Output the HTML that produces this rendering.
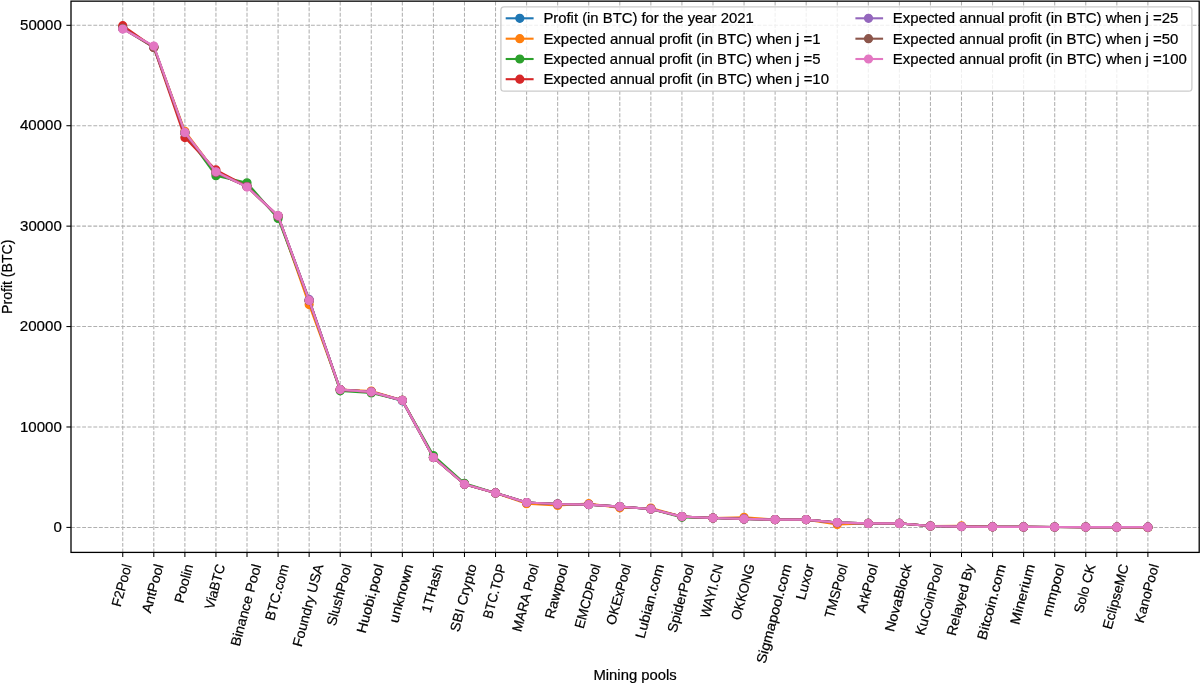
<!DOCTYPE html>
<html><head><meta charset="utf-8"><title>Mining pools profit</title>
<style>html,body{margin:0;padding:0;background:#fff;width:1200px;height:683px;overflow:hidden}text{font-family:"Liberation Sans",sans-serif;stroke:#000;stroke-width:0.2px}</style></head>
<body>
<svg width="1200" height="683" viewBox="0 0 1200 683" style="display:block;font-family:'Liberation Sans',sans-serif;filter:blur(0.3px)">
<rect width="1200" height="683" fill="#fff"/>
<g stroke="#b0b0b0" stroke-width="1.05" stroke-dasharray="3.9 1.68" fill="none">
<line x1="122.75" y1="552.40" x2="122.75" y2="1.15"/>
<line x1="153.81" y1="552.40" x2="153.81" y2="1.15"/>
<line x1="184.88" y1="552.40" x2="184.88" y2="1.15"/>
<line x1="215.94" y1="552.40" x2="215.94" y2="1.15"/>
<line x1="247.01" y1="552.40" x2="247.01" y2="1.15"/>
<line x1="278.08" y1="552.40" x2="278.08" y2="1.15"/>
<line x1="309.14" y1="552.40" x2="309.14" y2="1.15"/>
<line x1="340.21" y1="552.40" x2="340.21" y2="1.15"/>
<line x1="371.27" y1="552.40" x2="371.27" y2="1.15"/>
<line x1="402.34" y1="552.40" x2="402.34" y2="1.15"/>
<line x1="433.40" y1="552.40" x2="433.40" y2="1.15"/>
<line x1="464.47" y1="552.40" x2="464.47" y2="1.15"/>
<line x1="495.53" y1="552.40" x2="495.53" y2="1.15"/>
<line x1="526.60" y1="552.40" x2="526.60" y2="1.15"/>
<line x1="557.66" y1="552.40" x2="557.66" y2="1.15"/>
<line x1="588.73" y1="552.40" x2="588.73" y2="1.15"/>
<line x1="619.79" y1="552.40" x2="619.79" y2="1.15"/>
<line x1="650.86" y1="552.40" x2="650.86" y2="1.15"/>
<line x1="681.92" y1="552.40" x2="681.92" y2="1.15"/>
<line x1="712.99" y1="552.40" x2="712.99" y2="1.15"/>
<line x1="744.05" y1="552.40" x2="744.05" y2="1.15"/>
<line x1="775.12" y1="552.40" x2="775.12" y2="1.15"/>
<line x1="806.18" y1="552.40" x2="806.18" y2="1.15"/>
<line x1="837.25" y1="552.40" x2="837.25" y2="1.15"/>
<line x1="868.31" y1="552.40" x2="868.31" y2="1.15"/>
<line x1="899.38" y1="552.40" x2="899.38" y2="1.15"/>
<line x1="930.44" y1="552.40" x2="930.44" y2="1.15"/>
<line x1="961.50" y1="552.40" x2="961.50" y2="1.15"/>
<line x1="992.57" y1="552.40" x2="992.57" y2="1.15"/>
<line x1="1023.63" y1="552.40" x2="1023.63" y2="1.15"/>
<line x1="1054.70" y1="552.40" x2="1054.70" y2="1.15"/>
<line x1="1085.76" y1="552.40" x2="1085.76" y2="1.15"/>
<line x1="1116.83" y1="552.40" x2="1116.83" y2="1.15"/>
<line x1="1147.89" y1="552.40" x2="1147.89" y2="1.15"/>
<line x1="71.00" y1="527.40" x2="1199.20" y2="527.40"/>
<line x1="71.00" y1="426.98" x2="1199.20" y2="426.98"/>
<line x1="71.00" y1="326.56" x2="1199.20" y2="326.56"/>
<line x1="71.00" y1="226.14" x2="1199.20" y2="226.14"/>
<line x1="71.00" y1="125.72" x2="1199.20" y2="125.72"/>
<line x1="71.00" y1="25.30" x2="1199.20" y2="25.30"/>
</g>
<polyline points="122.75,27.81 153.81,46.89 184.88,132.75 215.94,172.42 247.01,186.47 278.08,216.10 309.14,300.45 340.21,389.62 371.27,391.83 402.34,400.87 433.40,457.51 464.47,484.22 495.53,492.96 526.60,502.50 557.66,504.00 588.73,504.60 619.79,506.61 650.86,509.02 681.92,516.60 712.99,518.01 744.05,518.96 775.12,519.57 806.18,519.57 837.25,522.58 868.31,523.38 899.38,523.38 930.44,525.99 961.50,526.60 992.57,526.80 1023.63,526.90 1054.70,527.00 1085.76,527.10 1116.83,527.20 1147.89,527.20" fill="none" stroke="#1f77b4" stroke-width="2.2" stroke-linejoin="round" stroke-linecap="butt"/>
<g fill="#1f77b4" stroke="#1f77b4" stroke-width="1.31"><circle cx="122.75" cy="27.81" r="3.938"/><circle cx="153.81" cy="46.89" r="3.938"/><circle cx="184.88" cy="132.75" r="3.938"/><circle cx="215.94" cy="172.42" r="3.938"/><circle cx="247.01" cy="186.47" r="3.938"/><circle cx="278.08" cy="216.10" r="3.938"/><circle cx="309.14" cy="300.45" r="3.938"/><circle cx="340.21" cy="389.62" r="3.938"/><circle cx="371.27" cy="391.83" r="3.938"/><circle cx="402.34" cy="400.87" r="3.938"/><circle cx="433.40" cy="457.51" r="3.938"/><circle cx="464.47" cy="484.22" r="3.938"/><circle cx="495.53" cy="492.96" r="3.938"/><circle cx="526.60" cy="502.50" r="3.938"/><circle cx="557.66" cy="504.00" r="3.938"/><circle cx="588.73" cy="504.60" r="3.938"/><circle cx="619.79" cy="506.61" r="3.938"/><circle cx="650.86" cy="509.02" r="3.938"/><circle cx="681.92" cy="516.60" r="3.938"/><circle cx="712.99" cy="518.01" r="3.938"/><circle cx="744.05" cy="518.96" r="3.938"/><circle cx="775.12" cy="519.57" r="3.938"/><circle cx="806.18" cy="519.57" r="3.938"/><circle cx="837.25" cy="522.58" r="3.938"/><circle cx="868.31" cy="523.38" r="3.938"/><circle cx="899.38" cy="523.38" r="3.938"/><circle cx="930.44" cy="525.99" r="3.938"/><circle cx="961.50" cy="526.60" r="3.938"/><circle cx="992.57" cy="526.80" r="3.938"/><circle cx="1023.63" cy="526.90" r="3.938"/><circle cx="1054.70" cy="527.00" r="3.938"/><circle cx="1085.76" cy="527.10" r="3.938"/><circle cx="1116.83" cy="527.20" r="3.938"/><circle cx="1147.89" cy="527.20" r="3.938"/></g>
<polyline points="122.75,28.31 153.81,46.89 184.88,131.24 215.94,172.42 247.01,186.47 278.08,216.10 309.14,304.57 340.21,389.62 371.27,391.03 402.34,400.37 433.40,457.51 464.47,484.22 495.53,492.96 526.60,503.70 557.66,505.41 588.73,503.70 619.79,507.82 650.86,508.02 681.92,516.60 712.99,518.01 744.05,517.36 775.12,519.57 806.18,519.57 837.25,524.39 868.31,523.38 899.38,523.38 930.44,525.99 961.50,525.89 992.57,526.80 1023.63,526.90 1054.70,527.00 1085.76,527.10 1116.83,527.20 1147.89,527.60" fill="none" stroke="#ff7f0e" stroke-width="2.2" stroke-linejoin="round" stroke-linecap="butt"/>
<g fill="#ff7f0e" stroke="#ff7f0e" stroke-width="1.31"><circle cx="122.75" cy="28.31" r="3.938"/><circle cx="153.81" cy="46.89" r="3.938"/><circle cx="184.88" cy="131.24" r="3.938"/><circle cx="215.94" cy="172.42" r="3.938"/><circle cx="247.01" cy="186.47" r="3.938"/><circle cx="278.08" cy="216.10" r="3.938"/><circle cx="309.14" cy="304.57" r="3.938"/><circle cx="340.21" cy="389.62" r="3.938"/><circle cx="371.27" cy="391.03" r="3.938"/><circle cx="402.34" cy="400.37" r="3.938"/><circle cx="433.40" cy="457.51" r="3.938"/><circle cx="464.47" cy="484.22" r="3.938"/><circle cx="495.53" cy="492.96" r="3.938"/><circle cx="526.60" cy="503.70" r="3.938"/><circle cx="557.66" cy="505.41" r="3.938"/><circle cx="588.73" cy="503.70" r="3.938"/><circle cx="619.79" cy="507.82" r="3.938"/><circle cx="650.86" cy="508.02" r="3.938"/><circle cx="681.92" cy="516.60" r="3.938"/><circle cx="712.99" cy="518.01" r="3.938"/><circle cx="744.05" cy="517.36" r="3.938"/><circle cx="775.12" cy="519.57" r="3.938"/><circle cx="806.18" cy="519.57" r="3.938"/><circle cx="837.25" cy="524.39" r="3.938"/><circle cx="868.31" cy="523.38" r="3.938"/><circle cx="899.38" cy="523.38" r="3.938"/><circle cx="930.44" cy="525.99" r="3.938"/><circle cx="961.50" cy="525.89" r="3.938"/><circle cx="992.57" cy="526.80" r="3.938"/><circle cx="1023.63" cy="526.90" r="3.938"/><circle cx="1054.70" cy="527.00" r="3.938"/><circle cx="1085.76" cy="527.10" r="3.938"/><circle cx="1116.83" cy="527.20" r="3.938"/><circle cx="1147.89" cy="527.60" r="3.938"/></g>
<polyline points="122.75,27.81 153.81,46.89 184.88,132.75 215.94,175.63 247.01,182.86 278.08,218.41 309.14,300.45 340.21,390.83 371.27,392.94 402.34,400.37 433.40,455.60 464.47,483.22 495.53,492.96 526.60,502.50 557.66,504.00 588.73,504.60 619.79,506.61 650.86,509.02 681.92,517.36 712.99,518.01 744.05,518.96 775.12,519.57 806.18,519.57 837.25,522.58 868.31,523.38 899.38,523.38 930.44,525.99 961.50,526.60 992.57,526.80 1023.63,526.90 1054.70,527.00 1085.76,527.10 1116.83,527.20 1147.89,527.20" fill="none" stroke="#2ca02c" stroke-width="2.2" stroke-linejoin="round" stroke-linecap="butt"/>
<g fill="#2ca02c" stroke="#2ca02c" stroke-width="1.31"><circle cx="122.75" cy="27.81" r="3.938"/><circle cx="153.81" cy="46.89" r="3.938"/><circle cx="184.88" cy="132.75" r="3.938"/><circle cx="215.94" cy="175.63" r="3.938"/><circle cx="247.01" cy="182.86" r="3.938"/><circle cx="278.08" cy="218.41" r="3.938"/><circle cx="309.14" cy="300.45" r="3.938"/><circle cx="340.21" cy="390.83" r="3.938"/><circle cx="371.27" cy="392.94" r="3.938"/><circle cx="402.34" cy="400.37" r="3.938"/><circle cx="433.40" cy="455.60" r="3.938"/><circle cx="464.47" cy="483.22" r="3.938"/><circle cx="495.53" cy="492.96" r="3.938"/><circle cx="526.60" cy="502.50" r="3.938"/><circle cx="557.66" cy="504.00" r="3.938"/><circle cx="588.73" cy="504.60" r="3.938"/><circle cx="619.79" cy="506.61" r="3.938"/><circle cx="650.86" cy="509.02" r="3.938"/><circle cx="681.92" cy="517.36" r="3.938"/><circle cx="712.99" cy="518.01" r="3.938"/><circle cx="744.05" cy="518.96" r="3.938"/><circle cx="775.12" cy="519.57" r="3.938"/><circle cx="806.18" cy="519.57" r="3.938"/><circle cx="837.25" cy="522.58" r="3.938"/><circle cx="868.31" cy="523.38" r="3.938"/><circle cx="899.38" cy="523.38" r="3.938"/><circle cx="930.44" cy="525.99" r="3.938"/><circle cx="961.50" cy="526.60" r="3.938"/><circle cx="992.57" cy="526.80" r="3.938"/><circle cx="1023.63" cy="526.90" r="3.938"/><circle cx="1054.70" cy="527.00" r="3.938"/><circle cx="1085.76" cy="527.10" r="3.938"/><circle cx="1116.83" cy="527.20" r="3.938"/><circle cx="1147.89" cy="527.20" r="3.938"/></g>
<polyline points="122.75,25.70 153.81,47.49 184.88,137.57 215.94,169.90 247.01,186.47 278.08,216.10 309.14,300.45 340.21,389.62 371.27,391.83 402.34,400.37 433.40,457.51 464.47,484.22 495.53,492.96 526.60,502.50 557.66,504.00 588.73,504.60 619.79,506.61 650.86,509.02 681.92,516.60 712.99,518.01 744.05,518.96 775.12,519.57 806.18,519.57 837.25,522.58 868.31,523.38 899.38,523.38 930.44,525.99 961.50,526.60 992.57,526.80 1023.63,526.90 1054.70,527.00 1085.76,527.10 1116.83,527.20 1147.89,527.20" fill="none" stroke="#d62728" stroke-width="2.2" stroke-linejoin="round" stroke-linecap="butt"/>
<g fill="#d62728" stroke="#d62728" stroke-width="1.31"><circle cx="122.75" cy="25.70" r="3.938"/><circle cx="153.81" cy="47.49" r="3.938"/><circle cx="184.88" cy="137.57" r="3.938"/><circle cx="215.94" cy="169.90" r="3.938"/><circle cx="247.01" cy="186.47" r="3.938"/><circle cx="278.08" cy="216.10" r="3.938"/><circle cx="309.14" cy="300.45" r="3.938"/><circle cx="340.21" cy="389.62" r="3.938"/><circle cx="371.27" cy="391.83" r="3.938"/><circle cx="402.34" cy="400.37" r="3.938"/><circle cx="433.40" cy="457.51" r="3.938"/><circle cx="464.47" cy="484.22" r="3.938"/><circle cx="495.53" cy="492.96" r="3.938"/><circle cx="526.60" cy="502.50" r="3.938"/><circle cx="557.66" cy="504.00" r="3.938"/><circle cx="588.73" cy="504.60" r="3.938"/><circle cx="619.79" cy="506.61" r="3.938"/><circle cx="650.86" cy="509.02" r="3.938"/><circle cx="681.92" cy="516.60" r="3.938"/><circle cx="712.99" cy="518.01" r="3.938"/><circle cx="744.05" cy="518.96" r="3.938"/><circle cx="775.12" cy="519.57" r="3.938"/><circle cx="806.18" cy="519.57" r="3.938"/><circle cx="837.25" cy="522.58" r="3.938"/><circle cx="868.31" cy="523.38" r="3.938"/><circle cx="899.38" cy="523.38" r="3.938"/><circle cx="930.44" cy="525.99" r="3.938"/><circle cx="961.50" cy="526.60" r="3.938"/><circle cx="992.57" cy="526.80" r="3.938"/><circle cx="1023.63" cy="526.90" r="3.938"/><circle cx="1054.70" cy="527.00" r="3.938"/><circle cx="1085.76" cy="527.10" r="3.938"/><circle cx="1116.83" cy="527.20" r="3.938"/><circle cx="1147.89" cy="527.20" r="3.938"/></g>
<polyline points="122.75,28.81 153.81,46.89 184.88,132.75 215.94,172.42 247.01,186.47 278.08,216.10 309.14,299.45 340.21,389.62 371.27,391.83 402.34,400.37 433.40,457.51 464.47,484.22 495.53,492.96 526.60,502.50 557.66,504.00 588.73,504.60 619.79,506.61 650.86,509.02 681.92,516.60 712.99,518.01 744.05,518.96 775.12,519.57 806.18,519.57 837.25,522.58 868.31,523.38 899.38,523.38 930.44,525.99 961.50,526.60 992.57,526.80 1023.63,526.90 1054.70,527.00 1085.76,527.10 1116.83,527.20 1147.89,527.20" fill="none" stroke="#9467bd" stroke-width="2.2" stroke-linejoin="round" stroke-linecap="butt"/>
<g fill="#9467bd" stroke="#9467bd" stroke-width="1.31"><circle cx="122.75" cy="28.81" r="3.938"/><circle cx="153.81" cy="46.89" r="3.938"/><circle cx="184.88" cy="132.75" r="3.938"/><circle cx="215.94" cy="172.42" r="3.938"/><circle cx="247.01" cy="186.47" r="3.938"/><circle cx="278.08" cy="216.10" r="3.938"/><circle cx="309.14" cy="299.45" r="3.938"/><circle cx="340.21" cy="389.62" r="3.938"/><circle cx="371.27" cy="391.83" r="3.938"/><circle cx="402.34" cy="400.37" r="3.938"/><circle cx="433.40" cy="457.51" r="3.938"/><circle cx="464.47" cy="484.22" r="3.938"/><circle cx="495.53" cy="492.96" r="3.938"/><circle cx="526.60" cy="502.50" r="3.938"/><circle cx="557.66" cy="504.00" r="3.938"/><circle cx="588.73" cy="504.60" r="3.938"/><circle cx="619.79" cy="506.61" r="3.938"/><circle cx="650.86" cy="509.02" r="3.938"/><circle cx="681.92" cy="516.60" r="3.938"/><circle cx="712.99" cy="518.01" r="3.938"/><circle cx="744.05" cy="518.96" r="3.938"/><circle cx="775.12" cy="519.57" r="3.938"/><circle cx="806.18" cy="519.57" r="3.938"/><circle cx="837.25" cy="522.58" r="3.938"/><circle cx="868.31" cy="523.38" r="3.938"/><circle cx="899.38" cy="523.38" r="3.938"/><circle cx="930.44" cy="525.99" r="3.938"/><circle cx="961.50" cy="526.60" r="3.938"/><circle cx="992.57" cy="526.80" r="3.938"/><circle cx="1023.63" cy="526.90" r="3.938"/><circle cx="1054.70" cy="527.00" r="3.938"/><circle cx="1085.76" cy="527.10" r="3.938"/><circle cx="1116.83" cy="527.20" r="3.938"/><circle cx="1147.89" cy="527.20" r="3.938"/></g>
<polyline points="122.75,28.31 153.81,47.49 184.88,132.75 215.94,172.42 247.01,186.47 278.08,216.10 309.14,300.45 340.21,389.62 371.27,391.83 402.34,400.37 433.40,457.51 464.47,484.22 495.53,492.96 526.60,502.50 557.66,504.00 588.73,504.60 619.79,506.61 650.86,509.02 681.92,516.60 712.99,518.01 744.05,518.96 775.12,519.57 806.18,519.57 837.25,522.58 868.31,523.38 899.38,523.38 930.44,525.99 961.50,526.60 992.57,526.80 1023.63,526.90 1054.70,527.00 1085.76,527.10 1116.83,527.20 1147.89,527.20" fill="none" stroke="#8c564b" stroke-width="2.2" stroke-linejoin="round" stroke-linecap="butt"/>
<g fill="#8c564b" stroke="#8c564b" stroke-width="1.31"><circle cx="122.75" cy="28.31" r="3.938"/><circle cx="153.81" cy="47.49" r="3.938"/><circle cx="184.88" cy="132.75" r="3.938"/><circle cx="215.94" cy="172.42" r="3.938"/><circle cx="247.01" cy="186.47" r="3.938"/><circle cx="278.08" cy="216.10" r="3.938"/><circle cx="309.14" cy="300.45" r="3.938"/><circle cx="340.21" cy="389.62" r="3.938"/><circle cx="371.27" cy="391.83" r="3.938"/><circle cx="402.34" cy="400.37" r="3.938"/><circle cx="433.40" cy="457.51" r="3.938"/><circle cx="464.47" cy="484.22" r="3.938"/><circle cx="495.53" cy="492.96" r="3.938"/><circle cx="526.60" cy="502.50" r="3.938"/><circle cx="557.66" cy="504.00" r="3.938"/><circle cx="588.73" cy="504.60" r="3.938"/><circle cx="619.79" cy="506.61" r="3.938"/><circle cx="650.86" cy="509.02" r="3.938"/><circle cx="681.92" cy="516.60" r="3.938"/><circle cx="712.99" cy="518.01" r="3.938"/><circle cx="744.05" cy="518.96" r="3.938"/><circle cx="775.12" cy="519.57" r="3.938"/><circle cx="806.18" cy="519.57" r="3.938"/><circle cx="837.25" cy="522.58" r="3.938"/><circle cx="868.31" cy="523.38" r="3.938"/><circle cx="899.38" cy="523.38" r="3.938"/><circle cx="930.44" cy="525.99" r="3.938"/><circle cx="961.50" cy="526.60" r="3.938"/><circle cx="992.57" cy="526.80" r="3.938"/><circle cx="1023.63" cy="526.90" r="3.938"/><circle cx="1054.70" cy="527.00" r="3.938"/><circle cx="1085.76" cy="527.10" r="3.938"/><circle cx="1116.83" cy="527.20" r="3.938"/><circle cx="1147.89" cy="527.20" r="3.938"/></g>
<polyline points="122.75,29.02 153.81,45.99 184.88,132.45 215.94,171.81 247.01,187.08 278.08,215.60 309.14,300.45 340.21,389.62 371.27,391.83 402.34,400.37 433.40,457.51 464.47,484.22 495.53,492.96 526.60,502.50 557.66,504.00 588.73,504.60 619.79,506.61 650.86,509.02 681.92,516.60 712.99,518.01 744.05,518.96 775.12,519.57 806.18,519.57 837.25,522.58 868.31,523.38 899.38,523.38 930.44,525.99 961.50,526.60 992.57,526.80 1023.63,526.90 1054.70,527.00 1085.76,527.10 1116.83,527.20 1147.89,527.20" fill="none" stroke="#e377c2" stroke-width="2.2" stroke-linejoin="round" stroke-linecap="butt"/>
<g fill="#e377c2" stroke="#e377c2" stroke-width="1.31"><circle cx="122.75" cy="29.02" r="3.938"/><circle cx="153.81" cy="45.99" r="3.938"/><circle cx="184.88" cy="132.45" r="3.938"/><circle cx="215.94" cy="171.81" r="3.938"/><circle cx="247.01" cy="187.08" r="3.938"/><circle cx="278.08" cy="215.60" r="3.938"/><circle cx="309.14" cy="300.45" r="3.938"/><circle cx="340.21" cy="389.62" r="3.938"/><circle cx="371.27" cy="391.83" r="3.938"/><circle cx="402.34" cy="400.37" r="3.938"/><circle cx="433.40" cy="457.51" r="3.938"/><circle cx="464.47" cy="484.22" r="3.938"/><circle cx="495.53" cy="492.96" r="3.938"/><circle cx="526.60" cy="502.50" r="3.938"/><circle cx="557.66" cy="504.00" r="3.938"/><circle cx="588.73" cy="504.60" r="3.938"/><circle cx="619.79" cy="506.61" r="3.938"/><circle cx="650.86" cy="509.02" r="3.938"/><circle cx="681.92" cy="516.60" r="3.938"/><circle cx="712.99" cy="518.01" r="3.938"/><circle cx="744.05" cy="518.96" r="3.938"/><circle cx="775.12" cy="519.57" r="3.938"/><circle cx="806.18" cy="519.57" r="3.938"/><circle cx="837.25" cy="522.58" r="3.938"/><circle cx="868.31" cy="523.38" r="3.938"/><circle cx="899.38" cy="523.38" r="3.938"/><circle cx="930.44" cy="525.99" r="3.938"/><circle cx="961.50" cy="526.60" r="3.938"/><circle cx="992.57" cy="526.80" r="3.938"/><circle cx="1023.63" cy="526.90" r="3.938"/><circle cx="1054.70" cy="527.00" r="3.938"/><circle cx="1085.76" cy="527.10" r="3.938"/><circle cx="1116.83" cy="527.20" r="3.938"/><circle cx="1147.89" cy="527.20" r="3.938"/></g>
<rect x="71.00" y="1.15" width="1128.20" height="551.25" stroke="#000" stroke-width="1.3" fill="none" stroke-linecap="square"/>
<g stroke="#000" stroke-width="1.05">
<line x1="122.75" y1="552.40" x2="122.75" y2="556.99"/>
<line x1="153.81" y1="552.40" x2="153.81" y2="556.99"/>
<line x1="184.88" y1="552.40" x2="184.88" y2="556.99"/>
<line x1="215.94" y1="552.40" x2="215.94" y2="556.99"/>
<line x1="247.01" y1="552.40" x2="247.01" y2="556.99"/>
<line x1="278.08" y1="552.40" x2="278.08" y2="556.99"/>
<line x1="309.14" y1="552.40" x2="309.14" y2="556.99"/>
<line x1="340.21" y1="552.40" x2="340.21" y2="556.99"/>
<line x1="371.27" y1="552.40" x2="371.27" y2="556.99"/>
<line x1="402.34" y1="552.40" x2="402.34" y2="556.99"/>
<line x1="433.40" y1="552.40" x2="433.40" y2="556.99"/>
<line x1="464.47" y1="552.40" x2="464.47" y2="556.99"/>
<line x1="495.53" y1="552.40" x2="495.53" y2="556.99"/>
<line x1="526.60" y1="552.40" x2="526.60" y2="556.99"/>
<line x1="557.66" y1="552.40" x2="557.66" y2="556.99"/>
<line x1="588.73" y1="552.40" x2="588.73" y2="556.99"/>
<line x1="619.79" y1="552.40" x2="619.79" y2="556.99"/>
<line x1="650.86" y1="552.40" x2="650.86" y2="556.99"/>
<line x1="681.92" y1="552.40" x2="681.92" y2="556.99"/>
<line x1="712.99" y1="552.40" x2="712.99" y2="556.99"/>
<line x1="744.05" y1="552.40" x2="744.05" y2="556.99"/>
<line x1="775.12" y1="552.40" x2="775.12" y2="556.99"/>
<line x1="806.18" y1="552.40" x2="806.18" y2="556.99"/>
<line x1="837.25" y1="552.40" x2="837.25" y2="556.99"/>
<line x1="868.31" y1="552.40" x2="868.31" y2="556.99"/>
<line x1="899.38" y1="552.40" x2="899.38" y2="556.99"/>
<line x1="930.44" y1="552.40" x2="930.44" y2="556.99"/>
<line x1="961.50" y1="552.40" x2="961.50" y2="556.99"/>
<line x1="992.57" y1="552.40" x2="992.57" y2="556.99"/>
<line x1="1023.63" y1="552.40" x2="1023.63" y2="556.99"/>
<line x1="1054.70" y1="552.40" x2="1054.70" y2="556.99"/>
<line x1="1085.76" y1="552.40" x2="1085.76" y2="556.99"/>
<line x1="1116.83" y1="552.40" x2="1116.83" y2="556.99"/>
<line x1="1147.89" y1="552.40" x2="1147.89" y2="556.99"/>
<line x1="66.41" y1="527.40" x2="71.00" y2="527.40"/>
<line x1="66.41" y1="426.98" x2="71.00" y2="426.98"/>
<line x1="66.41" y1="326.56" x2="71.00" y2="326.56"/>
<line x1="66.41" y1="226.14" x2="71.00" y2="226.14"/>
<line x1="66.41" y1="125.72" x2="71.00" y2="125.72"/>
<line x1="66.41" y1="25.30" x2="71.00" y2="25.30"/>
</g>
<text x="61.82" y="532.00" text-anchor="end" font-size="13.75" fill="#000" textLength="8.38" lengthAdjust="spacingAndGlyphs">0</text>
<text x="61.82" y="431.58" text-anchor="end" font-size="13.75" fill="#000" textLength="41.88" lengthAdjust="spacingAndGlyphs">10000</text>
<text x="61.82" y="331.16" text-anchor="end" font-size="13.75" fill="#000" textLength="42.00" lengthAdjust="spacingAndGlyphs">20000</text>
<text x="61.82" y="230.74" text-anchor="end" font-size="13.75" fill="#000" textLength="41.75" lengthAdjust="spacingAndGlyphs">30000</text>
<text x="61.82" y="130.32" text-anchor="end" font-size="13.75" fill="#000" textLength="41.88" lengthAdjust="spacingAndGlyphs">40000</text>
<text x="61.82" y="29.90" text-anchor="end" font-size="13.75" fill="#000" textLength="41.75" lengthAdjust="spacingAndGlyphs">50000</text>
<text transform="translate(122.75,585.62) rotate(-75)" x="0" y="3.50" text-anchor="middle" font-size="13.75" textLength="43.38" lengthAdjust="spacingAndGlyphs">F2Pool</text>
<text transform="translate(153.81,588.82) rotate(-75)" x="0" y="3.50" text-anchor="middle" font-size="13.75" textLength="50.00" lengthAdjust="spacingAndGlyphs">AntPool</text>
<text transform="translate(184.88,583.75) rotate(-75)" x="0" y="3.50" text-anchor="middle" font-size="13.75" textLength="39.50" lengthAdjust="spacingAndGlyphs">Poolin</text>
<text transform="translate(215.94,586.83) rotate(-75)" x="0" y="3.50" text-anchor="middle" font-size="13.75" textLength="45.88" lengthAdjust="spacingAndGlyphs">ViaBTC</text>
<text transform="translate(247.01,605.36) rotate(-75)" x="0" y="3.50" text-anchor="middle" font-size="13.75" textLength="84.25" lengthAdjust="spacingAndGlyphs">Binance Pool</text>
<text transform="translate(278.08,592.56) rotate(-75)" x="0" y="3.50" text-anchor="middle" font-size="13.75" textLength="57.75" lengthAdjust="spacingAndGlyphs">BTC.com</text>
<text transform="translate(309.14,605.66) rotate(-75)" x="0" y="3.50" text-anchor="middle" font-size="13.75" textLength="84.88" lengthAdjust="spacingAndGlyphs">Foundry USA</text>
<text transform="translate(340.21,595.16) rotate(-75)" x="0" y="3.50" text-anchor="middle" font-size="13.75" textLength="63.12" lengthAdjust="spacingAndGlyphs">SlushPool</text>
<text transform="translate(371.27,598.90) rotate(-75)" x="0" y="3.50" text-anchor="middle" font-size="13.75" textLength="70.88" lengthAdjust="spacingAndGlyphs">Huobi.pool</text>
<text transform="translate(402.34,593.71) rotate(-75)" x="0" y="3.50" text-anchor="middle" font-size="13.75" textLength="60.12" lengthAdjust="spacingAndGlyphs">unknown</text>
<text transform="translate(433.40,588.58) rotate(-75)" x="0" y="3.50" text-anchor="middle" font-size="13.75" textLength="49.50" lengthAdjust="spacingAndGlyphs">1THash</text>
<text transform="translate(464.47,598.12) rotate(-75)" x="0" y="3.50" text-anchor="middle" font-size="13.75" textLength="69.25" lengthAdjust="spacingAndGlyphs">SBI Crypto</text>
<text transform="translate(495.53,591.66) rotate(-75)" x="0" y="3.50" text-anchor="middle" font-size="13.75" textLength="55.88" lengthAdjust="spacingAndGlyphs">BTC.TOP</text>
<text transform="translate(526.60,598.12) rotate(-75)" x="0" y="3.50" text-anchor="middle" font-size="13.75" textLength="69.25" lengthAdjust="spacingAndGlyphs">MARA Pool</text>
<text transform="translate(557.66,591.66) rotate(-75)" x="0" y="3.50" text-anchor="middle" font-size="13.75" textLength="55.88" lengthAdjust="spacingAndGlyphs">Rawpool</text>
<text transform="translate(588.73,596.55) rotate(-75)" x="0" y="3.50" text-anchor="middle" font-size="13.75" textLength="66.00" lengthAdjust="spacingAndGlyphs">EMCDPool</text>
<text transform="translate(619.79,594.73) rotate(-75)" x="0" y="3.50" text-anchor="middle" font-size="13.75" textLength="62.25" lengthAdjust="spacingAndGlyphs">OKExPool</text>
<text transform="translate(650.86,601.50) rotate(-75)" x="0" y="3.50" text-anchor="middle" font-size="13.75" textLength="76.25" lengthAdjust="spacingAndGlyphs">Lubian.com</text>
<text transform="translate(681.92,598.48) rotate(-75)" x="0" y="3.50" text-anchor="middle" font-size="13.75" textLength="70.00" lengthAdjust="spacingAndGlyphs">SpiderPool</text>
<text transform="translate(712.99,591.23) rotate(-75)" x="0" y="3.50" text-anchor="middle" font-size="13.75" textLength="55.00" lengthAdjust="spacingAndGlyphs">WAYI.CN</text>
<text transform="translate(744.05,592.20) rotate(-75)" x="0" y="3.50" text-anchor="middle" font-size="13.75" textLength="57.00" lengthAdjust="spacingAndGlyphs">OKKONG</text>
<text transform="translate(775.12,614.05) rotate(-75)" x="0" y="3.50" text-anchor="middle" font-size="13.75" textLength="102.25" lengthAdjust="spacingAndGlyphs">Sigmapool.com</text>
<text transform="translate(806.18,582.24) rotate(-75)" x="0" y="3.50" text-anchor="middle" font-size="13.75" textLength="36.38" lengthAdjust="spacingAndGlyphs">Luxor</text>
<text transform="translate(837.25,591.29) rotate(-75)" x="0" y="3.50" text-anchor="middle" font-size="13.75" textLength="55.12" lengthAdjust="spacingAndGlyphs">TMSPool</text>
<text transform="translate(868.31,588.64) rotate(-75)" x="0" y="3.50" text-anchor="middle" font-size="13.75" textLength="49.62" lengthAdjust="spacingAndGlyphs">ArkPool</text>
<text transform="translate(899.38,598.18) rotate(-75)" x="0" y="3.50" text-anchor="middle" font-size="13.75" textLength="69.38" lengthAdjust="spacingAndGlyphs">NovaBlock</text>
<text transform="translate(930.44,599.93) rotate(-75)" x="0" y="3.50" text-anchor="middle" font-size="13.75" textLength="73.00" lengthAdjust="spacingAndGlyphs">KuCoinPool</text>
<text transform="translate(961.50,600.11) rotate(-75)" x="0" y="3.50" text-anchor="middle" font-size="13.75" textLength="73.38" lengthAdjust="spacingAndGlyphs">Relayed By</text>
<text transform="translate(992.57,602.22) rotate(-75)" x="0" y="3.50" text-anchor="middle" font-size="13.75" textLength="77.75" lengthAdjust="spacingAndGlyphs">Bitcoin.com</text>
<text transform="translate(1023.63,594.61) rotate(-75)" x="0" y="3.50" text-anchor="middle" font-size="13.75" textLength="62.00" lengthAdjust="spacingAndGlyphs">Minerium</text>
<text transform="translate(1054.70,590.81) rotate(-75)" x="0" y="3.50" text-anchor="middle" font-size="13.75" textLength="54.12" lengthAdjust="spacingAndGlyphs">mmpool</text>
<text transform="translate(1085.76,588.88) rotate(-75)" x="0" y="3.50" text-anchor="middle" font-size="13.75" textLength="50.12" lengthAdjust="spacingAndGlyphs">Solo CK</text>
<text transform="translate(1116.83,596.91) rotate(-75)" x="0" y="3.50" text-anchor="middle" font-size="13.75" textLength="66.75" lengthAdjust="spacingAndGlyphs">EclipseMC</text>
<text transform="translate(1147.89,593.71) rotate(-75)" x="0" y="3.50" text-anchor="middle" font-size="13.75" textLength="60.12" lengthAdjust="spacingAndGlyphs">KanoPool</text>
<text transform="translate(635.10,675.47) rotate(-0)" x="0" y="4.60" text-anchor="middle" font-size="13.75" textLength="83.38" lengthAdjust="spacingAndGlyphs">Mining pools</text>
<text transform="translate(8.06,276.77) rotate(-90)" x="0" y="3.50" text-anchor="middle" font-size="13.75" textLength="74.38" lengthAdjust="spacingAndGlyphs">Profit (BTC)</text>
<rect x="500.9" y="6.9" width="691.00" height="84.20" rx="3.2" ry="3.2" fill="#fff" fill-opacity="0.8" stroke="#cccccc" stroke-width="1.31"/>
<line x1="505.70" y1="18.30" x2="533.60" y2="18.30" stroke="#1f77b4" stroke-width="2.1"/>
<circle cx="519.80" cy="18.30" r="3.938" fill="#1f77b4" stroke="#1f77b4" stroke-width="1.31"/>
<text x="543.40" y="23.10" text-anchor="start" font-size="13.75" fill="#000" textLength="210.25" lengthAdjust="spacingAndGlyphs">Profit (in BTC) for the year 2021</text>
<line x1="505.70" y1="38.70" x2="533.60" y2="38.70" stroke="#ff7f0e" stroke-width="2.1"/>
<circle cx="519.80" cy="38.70" r="3.938" fill="#ff7f0e" stroke="#ff7f0e" stroke-width="1.31"/>
<text x="543.40" y="43.50" text-anchor="start" font-size="13.75" fill="#000" textLength="277.25" lengthAdjust="spacingAndGlyphs">Expected annual profit (in BTC) when j =1</text>
<line x1="505.70" y1="59.00" x2="533.60" y2="59.00" stroke="#2ca02c" stroke-width="2.1"/>
<circle cx="519.80" cy="59.00" r="3.938" fill="#2ca02c" stroke="#2ca02c" stroke-width="1.31"/>
<text x="543.40" y="63.80" text-anchor="start" font-size="13.75" fill="#000" textLength="277.12" lengthAdjust="spacingAndGlyphs">Expected annual profit (in BTC) when j =5</text>
<line x1="505.70" y1="79.20" x2="533.60" y2="79.20" stroke="#d62728" stroke-width="2.1"/>
<circle cx="519.80" cy="79.20" r="3.938" fill="#d62728" stroke="#d62728" stroke-width="1.31"/>
<text x="543.40" y="84.00" text-anchor="start" font-size="13.75" fill="#000" textLength="285.62" lengthAdjust="spacingAndGlyphs">Expected annual profit (in BTC) when j =10</text>
<line x1="855.40" y1="18.30" x2="883.10" y2="18.30" stroke="#9467bd" stroke-width="2.1"/>
<circle cx="868.50" cy="18.30" r="3.938" fill="#9467bd" stroke="#9467bd" stroke-width="1.31"/>
<text x="892.80" y="23.10" text-anchor="start" font-size="13.75" fill="#000" textLength="285.62" lengthAdjust="spacingAndGlyphs">Expected annual profit (in BTC) when j =25</text>
<line x1="855.40" y1="38.70" x2="883.10" y2="38.70" stroke="#8c564b" stroke-width="2.1"/>
<circle cx="868.50" cy="38.70" r="3.938" fill="#8c564b" stroke="#8c564b" stroke-width="1.31"/>
<text x="892.80" y="43.50" text-anchor="start" font-size="13.75" fill="#000" textLength="285.50" lengthAdjust="spacingAndGlyphs">Expected annual profit (in BTC) when j =50</text>
<line x1="855.40" y1="59.00" x2="883.10" y2="59.00" stroke="#e377c2" stroke-width="2.1"/>
<circle cx="868.50" cy="59.00" r="3.938" fill="#e377c2" stroke="#e377c2" stroke-width="1.31"/>
<text x="892.80" y="63.80" text-anchor="start" font-size="13.75" fill="#000" textLength="294.00" lengthAdjust="spacingAndGlyphs">Expected annual profit (in BTC) when j =100</text>
</svg>
</body></html>
